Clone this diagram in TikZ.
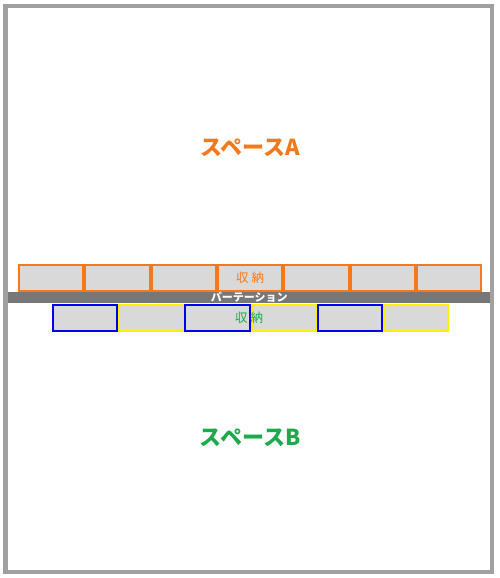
\documentclass[tikz,border=0pt]{standalone}
\usepackage{fontspec}
\newfontfamily\jp{Noto Sans CJK JP}
\definecolor{orA}{HTML}{F5781A}
\definecolor{grB}{HTML}{1DAA4A}
\definecolor{frameg}{HTML}{A0A0A0}
\definecolor{barg}{HTML}{777777}
\definecolor{boxfill}{HTML}{D9D9D9}
\definecolor{ylw}{HTML}{FFF200}
\definecolor{blu}{HTML}{0000EE}
\tikzset{
  shelf/.style={draw, fill=boxfill, line width=2pt, minimum width=64.3pt, minimum height=26pt, inner sep=0pt, anchor=north west},
  topbox/.style={shelf, draw=orA},
  bluebox/.style={shelf, draw=blu},
  yelbox/.style={shelf, draw=ylw},
  lbl/.style={font=\jp\bfseries\fontsize{22}{24}\selectfont, inner sep=0pt},
  small/.style={font=\jp\fontsize{12.5}{13}\selectfont, inner sep=0pt}
}
\begin{document}
\begin{tikzpicture}[x=1pt,y=-1pt]
\useasboundingbox (0,0) rectangle (500,578);
\fill[white] (0,0) rectangle (500,578);
\draw[frameg, line width=4.5pt] (5.5,6) rectangle (492,572);
% top row
\foreach \i in {0,...,6} {
  \node[topbox] (t\i) at ({18+66.3*\i},264) {};
}
% partition
\node[fill=barg, minimum width=482pt, minimum height=10pt, inner sep=0pt, anchor=north west,
      font=\jp\bfseries\fontsize{11}{11}\selectfont, text=white] (bar) at (8,292) {パーテーション};
% bottom row
\foreach \i/\s in {0/bluebox,1/yelbox,2/bluebox,3/yelbox,4/bluebox,5/yelbox} {
  \node[\s] (b\i) at ({52+66.2*\i},304) {};
}
\node[small, text=orA] (lA) at (t3.center) {収\hspace{3pt}納};
\node[small, text=grB] (lB) at (249,317.5) {収\hspace{3pt}納};
\node[lbl, text=orA] (A) at (250,148) {スペースA};
\node[lbl, text=grB] (B) at (250,438) {スペースB};
\end{tikzpicture}
\end{document}
